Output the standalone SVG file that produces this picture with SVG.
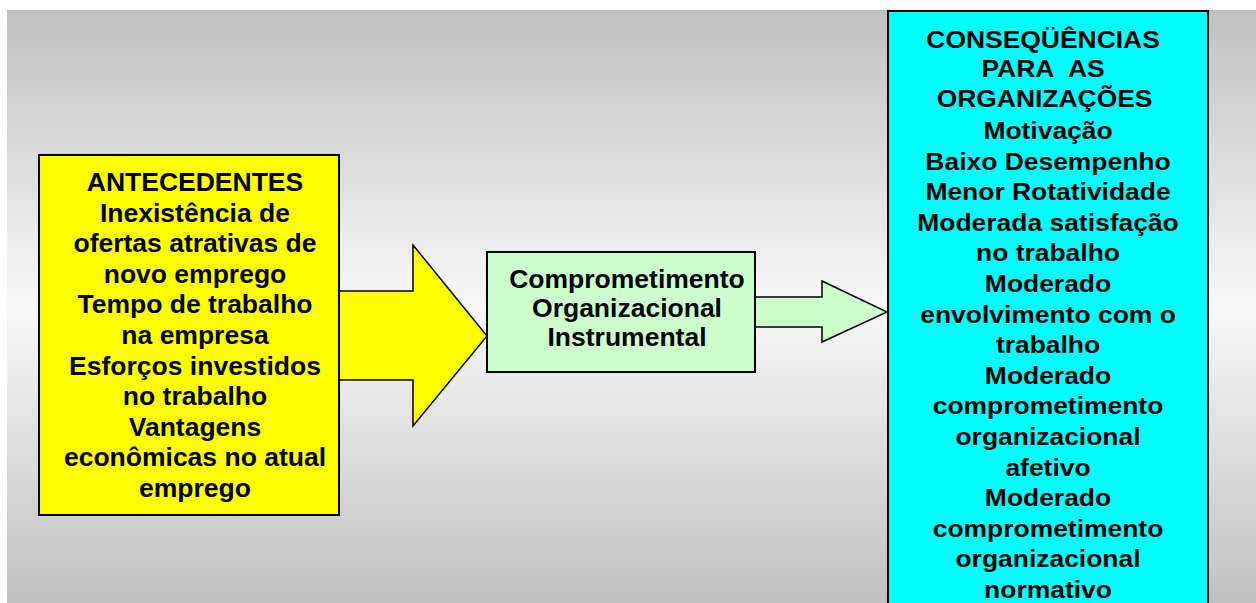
<svg xmlns="http://www.w3.org/2000/svg" width="1256" height="603" viewBox="0 0 1256 603">
<defs>
<linearGradient id="bg" gradientUnits="userSpaceOnUse" x1="0" y1="10" x2="0" y2="603">
<stop offset="0" stop-color="#c0c0c0"/>
<stop offset="0.5" stop-color="#f8f8f8"/>
<stop offset="1" stop-color="#c0c0c0"/>
</linearGradient>
<style>
.t{font-family:"Liberation Sans",Arial,sans-serif;font-weight:bold;fill:#000;text-anchor:middle}
.y{font-size:26.5px}
.c{font-size:23px}
.box{stroke:#000;stroke-width:2}
.arr{stroke:#000;stroke-width:1.5;stroke-linejoin:miter}
</style>
</defs>
<rect x="0" y="0" width="1256" height="603" fill="#ffffff"/>
<rect x="7" y="10" width="1249" height="593" fill="url(#bg)"/>
<g id="connectors">
<polygon class="arr" fill="#ffff00" points="300,291 413,291 413,245 487,336 413,426 413,380 300,380"/>
<polygon class="arr" fill="#ccffcc" points="740,297 822,297 822,281 887,312 822,342 822,327 740,327"/>
</g>
<g id="antecedentes">
<rect class="box" x="39" y="155" width="300" height="360" fill="#ffff00"/>
<text class="t y" x="195" y="191">ANTECEDENTES</text>
<text class="t y" x="195" y="221.6">Inexistência de</text>
<text class="t y" x="195" y="252.2">ofertas atrativas de</text>
<text class="t y" x="195" y="282.8">novo emprego</text>
<text class="t y" x="195" y="313.4">Tempo de trabalho</text>
<text class="t y" x="195" y="344">na empresa</text>
<text class="t y" x="195" y="374.6">Esforços investidos</text>
<text class="t y" x="195" y="405.2">no trabalho</text>
<text class="t y" x="195" y="435.8">Vantagens</text>
<text class="t y" x="195" y="466.4">econômicas no atual</text>
<text class="t y" x="195" y="497">emprego</text>
</g>
<g id="comprometimento">
<rect class="box" x="487" y="252" width="268" height="120" fill="#ccffcc"/>
<text class="t y" x="627" y="288">Comprometimento</text>
<text class="t y" x="627" y="317">Organizacional</text>
<text class="t y" x="627" y="346">Instrumental</text>
</g>
<g id="consequencias">
<rect class="box" x="888" y="11" width="320" height="600" fill="#00ffff"/>
<g transform="translate(1048,0) scale(1.15,1)">
<text class="t c" x="-4.3" y="47.7">CONSEQÜÊNCIAS</text>
<text class="t c" x="-4.3" y="77">PARA&#160; AS</text>
<text class="t c" x="-3" y="107">ORGANIZAÇÕES</text>
<text class="t c" x="0" y="139">Motivação</text>
<text class="t c" x="0" y="169.6">Baixo Desempenho</text>
<text class="t c" x="0" y="200.2">Menor Rotatividade</text>
<text class="t c" x="0" y="230.8">Moderada satisfação</text>
<text class="t c" x="0" y="261.4">no trabalho</text>
<text class="t c" x="0" y="292">Moderado</text>
<text class="t c" x="0" y="322.6">envolvimento com o</text>
<text class="t c" x="0" y="353.2">trabalho</text>
<text class="t c" x="0" y="383.8">Moderado</text>
<text class="t c" x="0" y="414.4">comprometimento</text>
<text class="t c" x="0" y="445">organizacional</text>
<text class="t c" x="0" y="475.6">afetivo</text>
<text class="t c" x="0" y="506.2">Moderado</text>
<text class="t c" x="0" y="536.8">comprometimento</text>
<text class="t c" x="0" y="567.4">organizacional</text>
<text class="t c" x="0" y="598">normativo</text>
</g>
</g>
</svg>
